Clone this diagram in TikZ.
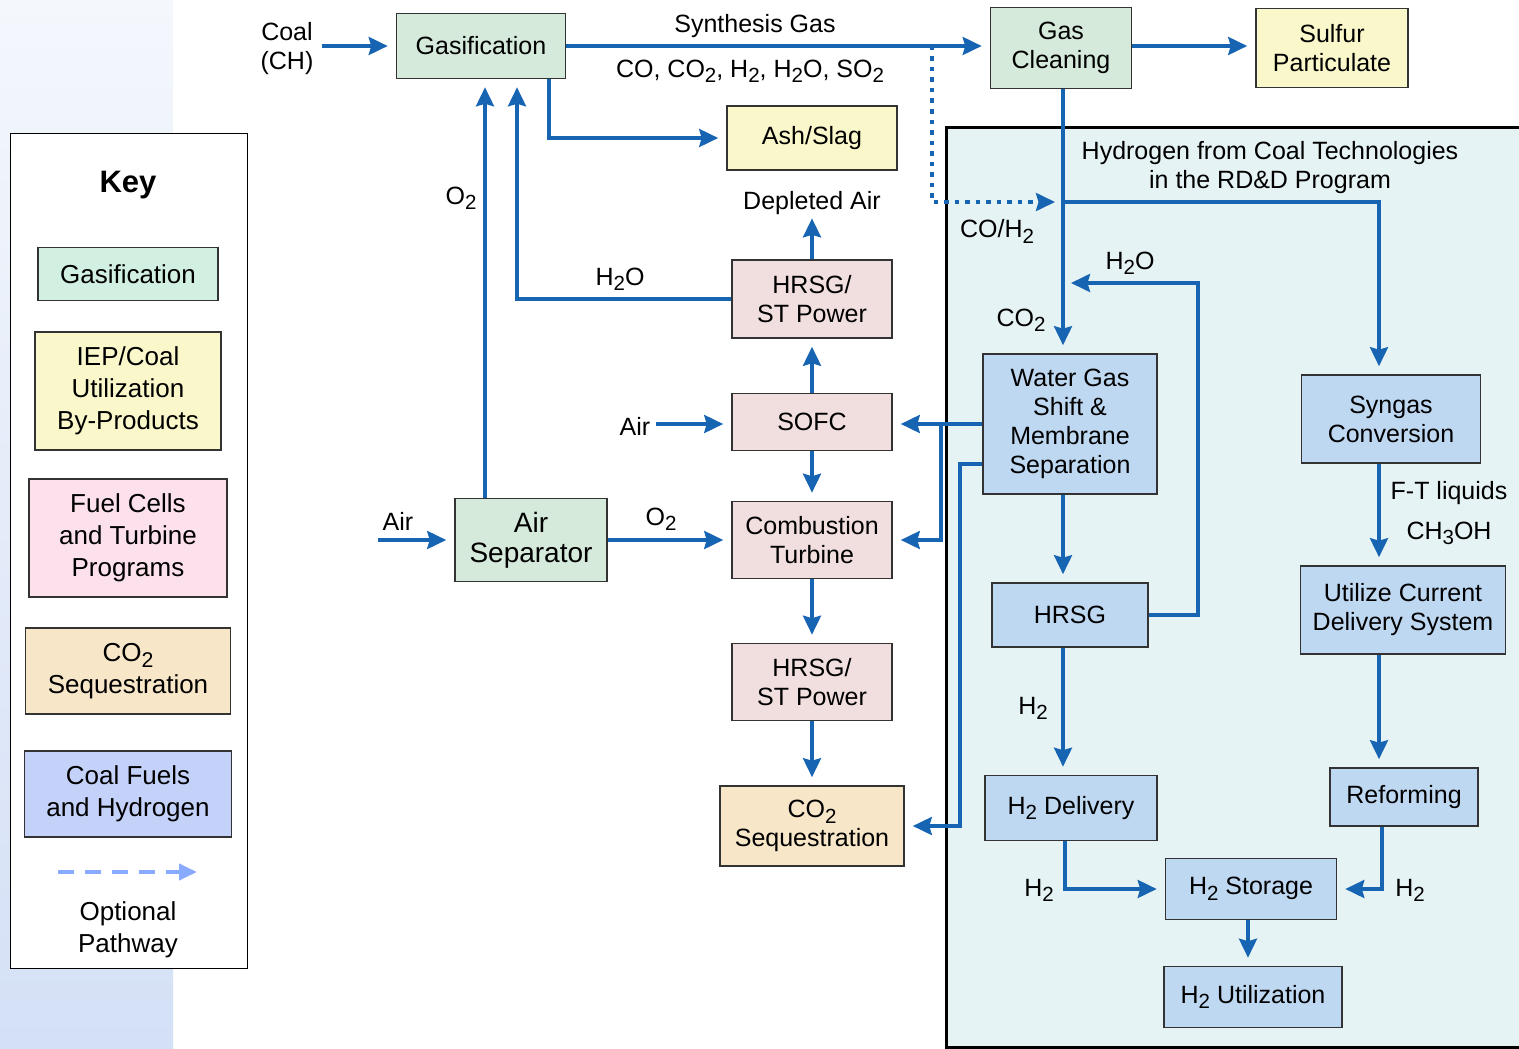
\documentclass[tikz,border=0pt]{standalone}
\usepackage{fontspec}
\setmainfont{Liberation Sans}
\usetikzlibrary{positioning,arrows.meta,calc}

\definecolor{flow}{RGB}{22,100,178}
\definecolor{gasfill}{RGB}{213,234,218}
\definecolor{keygas}{RGB}{210,240,226}
\definecolor{iepfill}{RGB}{250,248,202}
\definecolor{fcfill}{RGB}{241,222,223}
\definecolor{keyfc}{RGB}{252,224,236}
\definecolor{seqfill}{RGB}{248,230,200}
\definecolor{h2fill}{RGB}{190,216,242}
\definecolor{keyh2}{RGB}{196,210,250}
\definecolor{progbg}{RGB}{230,243,244}
\definecolor{optblue}{RGB}{136,170,255}

\newcommand{\dn}[1]{\raisebox{-0.22em}{\scalebox{0.82}{#1}}}

\tikzset{
box/.style={
draw=black!80,
line width=1.6pt,
align=center,
inner sep=0pt,
font=\fontsize{25}{29}\selectfont
},
gasbox/.style={box,fill=gasfill},
iepbox/.style={box,fill=iepfill},
fcbox/.style={box,fill=fcfill},
seqbox/.style={box,fill=seqfill},
h2box/.style={box,fill=h2fill},
keybox/.style={box,font=\fontsize{26}{32}\selectfont},
lbl/.style={
inner sep=2pt,
align=center,
yshift=-2.5pt,
font=\fontsize{25}{29}\selectfont
},
arrow/.style={
-{Stealth[length=19pt,width=18pt,inset=2.5pt]},
line width=3.5pt,
flow,
shorten >=8pt
},
optpath/.style={
arrow,
dash pattern=on 4.5pt off 6pt
}
}

\begin{document}
\begin{tikzpicture}[x=1pt,y=-1pt]
\useasboundingbox (0,0) rectangle (1519,1049);

% faded slide background and program area
\shade[top color={rgb,255:red,244;green,247;blue,252},bottom color={rgb,255:red,212;green,224;blue,246}]
(0,0) rectangle (173,1049);
\fill[progbg] (946,127) rectangle (1525,1047);
\draw[line width=3pt] (1525,127) -- (946,127) -- (946,1047) -- (1525,1047);
\node[lbl] (progtitle) at (1270,165) {Hydrogen from Coal Technologies\\in the RD\&D Program};

% key
\draw[line width=1pt,fill=white] (10,133) rectangle (247,968);
\node[font=\fontsize{31}{33}\selectfont\bfseries] (keytitle) at (128,185) {Key};
\node[keybox,fill=keygas,minimum width=180pt,minimum height=53pt] (kgas) at (128,274) {Gasification};
\node[keybox,fill=iepfill,minimum width=186pt,minimum height=118pt] (kiep) at (128,391) {IEP/Coal\\Utilization\\By-Products};
\node[keybox,fill=keyfc,minimum width=198pt,minimum height=118pt] (kfc) at (128,538) {Fuel Cells\\and Turbine\\Programs};
\node[keybox,fill=seqfill,minimum width=205pt,minimum height=86pt] (kseq) at (128,671) {CO\dn{2}\\Sequestration};
\node[keybox,fill=keyh2,minimum width=207pt,minimum height=86pt] (kh2) at (128,794) {Coal Fuels\\and Hydrogen};
\coordinate (koptA) at (58,872);
\coordinate (koptB) at (197,872);
\draw[optblue,line width=4pt,dash pattern=on 16pt off 11pt,-{Triangle[length=18pt,width=16pt]}] (koptA) -- (koptB);
\node[lbl,font=\fontsize{26}{32}\selectfont] (kopt) at (128,927) {Optional\\Pathway};

% process boxes
\node[gasbox,minimum width=169pt,minimum height=65pt] (gasif) at (481,46) {Gasification};
\node[gasbox,minimum width=141pt,minimum height=81pt] (gascl) at (1061,48) {Gas\\Cleaning};
\node[iepbox,minimum width=152pt,minimum height=79pt] (sulfur) at (1332,48) {Sulfur\\Particulate};
\node[iepbox,minimum width=170pt,minimum height=64pt] (ash) at (812,138) {Ash/Slag};
\node[fcbox,minimum width=160pt,minimum height=78pt] (hrsgA) at (812,299) {HRSG/\\ST Power};
\node[fcbox,minimum width=160pt,minimum height=57pt] (sofc) at (812,422) {SOFC};
\node[gasbox,minimum width=152pt,minimum height=83pt,font=\fontsize{28}{30}\selectfont] (airsep) at (531,540) {Air\\Separator};
\node[fcbox,minimum width=160pt,minimum height=77pt] (turb) at (812,540) {Combustion\\Turbine};
\node[fcbox,minimum width=160pt,minimum height=77pt] (hrsgB) at (812,682) {HRSG/\\ST Power};
\node[seqbox,minimum width=184pt,minimum height=80pt] (seq) at (812,826) {CO\dn{2}\\Sequestration};
\node[h2box,minimum width=174pt,minimum height=140pt] (wgs) at (1070,424) {Water Gas\\Shift \&\\Membrane\\Separation};
\node[h2box,minimum width=156pt,minimum height=64pt] (hrsgC) at (1070,615) {HRSG};
\node[h2box,minimum width=172pt,minimum height=65pt] (h2del) at (1071,808) {H\dn{2} Delivery};
\node[h2box,minimum width=179pt,minimum height=88pt] (syngas) at (1391,419) {Syngas\\Conversion};
\node[h2box,minimum width=205pt,minimum height=88pt] (util) at (1403,610) {Utilize Current\\Delivery System};
\node[h2box,minimum width=148pt,minimum height=58pt] (reform) at (1404,797) {Reforming};
\node[h2box,minimum width=171pt,minimum height=61pt] (h2stor) at (1251,889) {H\dn{2} Storage};
\node[h2box,minimum width=178pt,minimum height=61pt] (h2use) at (1253,997) {H\dn{2} Utilization};

% stream labels
\node[lbl] (coal) at (287,46) {Coal\\(CH)};
\node[lbl] (synlbl) at (755,24) {Synthesis Gas};
\node[lbl] (mixlbl) at (750,69) {CO, CO\dn{2}, H\dn{2}, H\dn{2}O, SO\dn{2}};
\node[lbl] (oxlblA) at (461,196) {O\dn{2}};
\node[lbl] (waterlblA) at (620,277) {H\dn{2}O};
\node[lbl] (depl) at (812,201) {Depleted Air};
\node[lbl] (airB) at (635,424) {Air};
\node[lbl] (airlblA) at (398,519) {Air};
\node[lbl] (oxlblB) at (661,517) {O\dn{2}};
\node[lbl] (cohlbl) at (997,229) {CO/H\dn{2}};
\node[lbl] (waterlblB) at (1130,261) {H\dn{2}O};
\node[lbl] (co2lbl) at (1021,318) {CO\dn{2}};
\node[lbl] (hlblA) at (1033,706) {H\dn{2}};
\node[lbl] (hlblB) at (1039,888) {H\dn{2}};
\node[lbl] (hlblC) at (1410,888) {H\dn{2}};
\node[lbl] (ftlbl) at (1449,491) {F-T liquids};
\node[lbl] (mlbl) at (1449,531) {CH\dn{3}OH};

\coordinate (airin) at (378,540);
\coordinate (split) at (932,46);
\coordinate (join) at (1063,202);
\coordinate (waterin) at (1063,283);

% connectors
\draw[arrow,shorten <=6pt] (coal.east |- gasif.west) -- (gasif.west);
\draw[arrow] (gasif.east) -- (gasif.east -| gascl.west);
\draw[arrow] (gasif.east -| gascl.east) -- (gasif.east -| sulfur.west);
\draw[optpath] (split) |- (join);
\draw[arrow] ([xshift=68pt]gasif.south) |- (ash.west);
\draw[arrow] ([xshift=-46pt]airsep.north) -- ([xshift=-46pt]airsep.north |- gasif.south);
\draw[arrow] (hrsgA.west) -| ([xshift=36pt]gasif.south);
\draw[arrow,shorten >=1pt] (hrsgA) -- (depl);
\draw[arrow] (sofc) -- (hrsgA);
\draw[arrow,shorten <=4pt] ([yshift=-2pt]airB.east |- sofc.west) -- ([yshift=-2pt]sofc.west);
\draw[arrow] (sofc) -- (turb);
\draw[arrow] (airin) -- (airsep.west);
\draw[arrow] (airsep.east) -- (airsep.east -| turb.west);
\draw[arrow] (turb) -- (hrsgB);
\draw[arrow] (hrsgB) -- (seq);
\draw[arrow] (wgs.west) -- (wgs.west -| sofc.east);
\draw[arrow] ([xshift=-41pt]wgs.west) |- (turb.east);
\draw[arrow] ([yshift=-40pt]wgs.west) -- ++(-22,0) |- (seq.east);
\draw[arrow] ([xshift=2pt]gascl.south) -- ([xshift=2pt]gascl.south |- wgs.north);
\draw[arrow] (join) -| ([xshift=-12pt]syngas.north);
\draw[arrow] (hrsgC.east) -| ([xshift=135pt]waterin) -- (waterin);
\draw[arrow] ([xshift=-7pt]wgs.south) -- ([xshift=-7pt]wgs.south |- hrsgC.north);
\draw[arrow] ([xshift=-7pt]hrsgC.south) -- ([xshift=-7pt]hrsgC.south |- h2del.north);
\draw[arrow] ([xshift=-6pt]h2del.south) |- (h2stor.west);
\draw[arrow] ([xshift=-12pt]syngas.south) -- ([xshift=-12pt]syngas.south |- util.north);
\draw[arrow] ([xshift=-24pt]util.south) -- ([xshift=-24pt]util.south |- reform.north);
\draw[arrow] ([xshift=-22pt]reform.south) |- (h2stor.east);
\draw[arrow] ([xshift=-3pt]h2stor.south) -- ([xshift=-3pt]h2stor.south |- h2use.north);
\end{tikzpicture}
\end{document}
